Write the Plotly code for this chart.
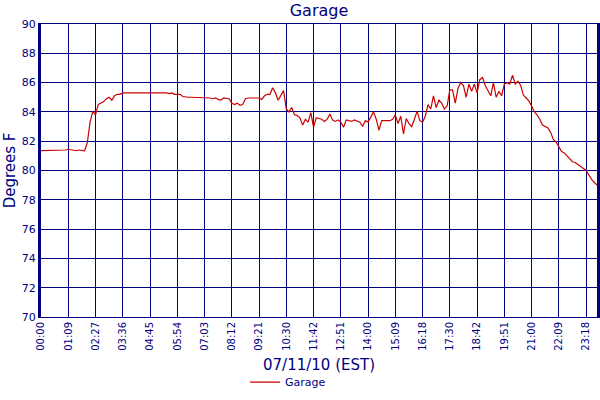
import plotly.graph_objects as go

# temperature readings, one every sample slot (10 slots between labelled ticks)
temps = [
    81.35, 81.35, 81.4, 81.35, 81.35, 81.4, 81.35, 81.35, 81.4, 81.4,
    81.45, 81.4, 81.35, 81.35, 81.4, 81.35, 81.35, 81.9, 83.3, 84.05,
    83.8, 84.5, 84.6, 84.7, 84.9, 85.0, 84.8, 85.1, 85.2, 85.2,
    85.3, 85.3, 85.35, 85.35, 85.35, 85.35, 85.35, 85.35, 85.35, 85.35,
    85.3, 85.35, 85.3, 85.3, 85.35, 85.3, 85.3, 85.25, 85.3, 85.2,
    85.2, 85.2, 85.05, 85.0, 85.0, 85.0, 85.0, 84.95, 85.0, 85.0,
    84.95, 84.95, 84.95, 84.9, 84.95, 84.85, 84.8, 84.95, 84.95, 84.9,
    84.6, 84.5, 84.6, 84.45, 84.5, 84.9, 84.95, 84.95, 84.95, 84.95,
    84.95, 84.85, 85.1, 85.2, 85.2, 85.65, 85.3, 84.8, 85.1, 85.45,
    84.2, 84.0, 84.3, 83.8, 83.75, 83.6, 83.1, 83.5, 83.3, 83.95,
    82.95, 83.6, 83.55, 83.5, 83.35, 83.5, 83.85, 83.45, 83.35, 83.45,
    83.3, 82.95, 83.45, 83.4, 83.35, 83.45, 83.4, 83.3, 83.0, 83.4,
    83.3, 83.7, 84.0, 83.5, 82.75, 83.4, 83.4, 83.4, 83.4, 83.5,
    83.8, 83.2, 83.7, 82.5, 83.55, 83.2, 83.0, 83.5, 84.05, 83.4,
    83.3, 83.7, 84.5, 84.2, 85.1, 84.3, 84.8, 84.6, 84.2, 84.4,
    85.5, 85.5, 84.6, 85.6, 86.0, 85.8, 85.0, 85.9, 85.4, 85.9,
    85.3, 86.2, 86.35, 85.8, 85.4, 85.1, 86.0, 85.0, 85.4, 85.1,
    85.9, 86.0, 85.9, 86.5, 85.9, 86.1, 85.8, 85.15, 84.95, 84.75,
    84.4, 84.0, 83.8, 83.5, 83.1, 83.0, 82.9, 82.6, 82.1, 81.95,
    81.6, 81.3, 81.2, 81.0, 80.8, 80.6, 80.55, 80.4, 80.3, 80.1,
    80.0, 79.7, 79.4, 79.2, 79.0,
]
tick_pos = [0, 10, 20, 30, 40, 50, 60, 70, 80, 90, 100,
            110, 120, 130, 140, 150, 160, 170, 180, 190, 200, 204]
tick_labels = ["00:00", "01:09", "02:27", "03:36", "04:45", "05:54", "07:03",
               "08:12", "09:21", "10:30", "11:42", "12:51", "14:00", "15:09",
               "16:18", "17:30", "18:42", "19:51", "21:00", "22:09", "23:18",
               "23:51"]

navy = "#000080"
font_name = "DejaVu Sans"

fig = go.Figure()
fig.add_trace(go.Scatter(
    x=list(range(len(temps))), y=temps, mode="lines", name="Garage",
    line=dict(color="#cc0000", width=1.2),
))

fig.update_layout(
    width=600, height=400,
    margin=dict(l=41, r=3, t=24, b=81, pad=0),
    paper_bgcolor="white", plot_bgcolor="white",
    font=dict(family=font_name, color=navy),
    title=dict(text="Garage", xref="paper", x=0.5, xanchor="center",
               yref="container", y=0.975, yanchor="middle", pad=dict(t=0, b=0),
               font=dict(size=16, color=navy, family=font_name)),
    showlegend=True,
    legend=dict(orientation="h", x=0.367, xanchor="left", y=-0.272, yanchor="bottom",
                font=dict(size=11, color=navy), itemwidth=30,
                bgcolor="rgba(0,0,0,0)"),
    annotations=[
        dict(text="Degrees F", xref="paper", yref="paper", x=-0.056, y=0.5,
             textangle=-90, showarrow=False, xanchor="center", yanchor="middle",
             font=dict(size=15, color=navy)),
        dict(text="07/11/10 (EST)", xref="paper", yref="paper", x=0.5, y=-0.163,
             showarrow=False, xanchor="center", yanchor="middle",
             font=dict(size=15, color=navy)),
    ],
)
fig.update_xaxes(
    range=[0, 204], tickmode="array", tickvals=tick_pos, ticktext=tick_labels,
    tickangle=-90, tickfont=dict(size=10, color=navy), automargin=False,
    showgrid=True, gridcolor=navy, gridwidth=1,
    showline=True, linecolor=navy, linewidth=1, mirror=True,
    zeroline=False, ticks="",
)
fig.update_yaxes(
    range=[70, 90], dtick=2, tick0=70, tickfont=dict(size=11, color=navy),
    automargin=False,
    showgrid=True, gridcolor=navy, gridwidth=1,
    showline=True, linecolor=navy, linewidth=3, mirror=True,
    zeroline=False, ticks="",
)

# drop the default page margin so the figure sits at the window's corner
fig.write_html("out.html", config={"displayModeBar": False},
               post_script="document.body.style.margin = '0';")
